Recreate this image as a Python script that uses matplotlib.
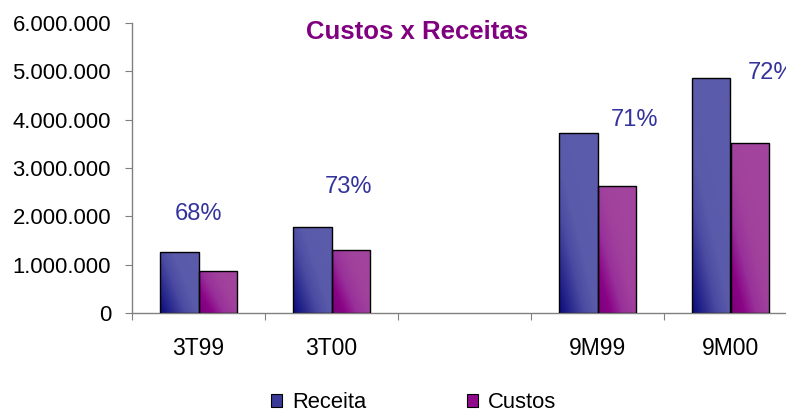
import numpy as np
import matplotlib
matplotlib.use("Agg")
import matplotlib.pyplot as plt
from matplotlib.colors import LinearSegmentedColormap
from matplotlib.patches import Rectangle

plt.rcParams['font.family'] = ['Liberation Sans', 'DejaVu Sans']

categories = ['3T99', '3T00', '', '9M99', '9M00']
receita = [1260000, 1780000, np.nan, 3730000, 4870000]
custos = [870000, 1300000, np.nan, 2630000, 3520000]
pct_labels = ['68%', '73%', '', '71%', '72%']
# label anchor positions (x offset from category centre, y in data units)
pct_dx = [0.0, 0.13, 0, 0.28, 0.31]
pct_y = [2050000, 2610000, 0, 4000000, 4970000]
yticks = [0, 1000000, 2000000, 3000000, 4000000, 5000000, 6000000]

fig = plt.figure(figsize=(7.86, 4.13), dpi=100)
ax = fig.add_axes([132/786, 100/413, 665/786, 290/413])

w = 0.286
x = np.arange(len(categories))
cmap_r = LinearSegmentedColormap.from_list('r', ['#0a0a7c', '#2a2a8e', '#4a4aa2', '#5a5aaa', '#5b5bab'])
cmap_c = LinearSegmentedColormap.from_list('c', ['#7a007a', '#8a0486', '#98309a', '#a0409c', '#a2449e'])

bars_r = ax.bar(x - w/2, receita, w, facecolor='none', edgecolor='black', linewidth=1.0, zorder=3, label='Receita')
bars_c = ax.bar(x + w/2, custos, w, facecolor='none', edgecolor='black', linewidth=1.0, zorder=3, label='Custos')

gu, gv = np.meshgrid(np.linspace(0, 1, 60), np.linspace(0, 1, 200))

def grad_for(h):
    # diagonal gradient dark at bottom-left
    scale = max(h / 1.0e6, 1.0)
    t = gu * 1.0 + gv * (0.4 + 0.2 * scale)
    return np.clip(t / 1.3, 0, 1)

for bars, cmap in ((bars_r, cmap_r), (bars_c, cmap_c)):
    for p in bars:
        x0, y0 = p.get_x(), p.get_y()
        h = p.get_height()
        if not np.isfinite(h):
            continue
        im = ax.imshow(grad_for(h), extent=[x0, x0 + p.get_width(), y0, y0 + h],
                       origin='lower', aspect='auto', cmap=cmap, vmin=0, vmax=1, zorder=2)
        im.set_clip_path(p)

for i, lab in enumerate(pct_labels):
    if lab:
        ax.text(x[i] + pct_dx[i], pct_y[i], lab, ha='center', va='center',
                fontsize=17, color='#33339c', zorder=4, clip_on=False)

ax.set_xlim(-0.5, len(categories) - 0.5)
ax.set_ylim(0, 6000000)
ax.set_yticks(yticks)
ax.set_yticklabels([f"{v:,}".replace(',', '.') for v in yticks])
ax.set_xticks(np.arange(len(categories) + 1) - 0.5)
ax.set_xticklabels([])
ax.set_xticks(x, minor=True)
ax.set_xticklabels(categories, minor=True)
ax.tick_params(axis='x', which='minor', length=0, pad=17, labelsize=16.5)
ax.tick_params(axis='x', which='major', length=5, direction='out', color='#808080')
ax.tick_params(axis='y', length=5, direction='out', color='#808080', pad=10, labelsize=15.9)
for s in ('top', 'right'):
    ax.spines[s].set_visible(False)
for s in ('left', 'bottom'):
    ax.spines[s].set_color('#808080')
    ax.spines[s].set_linewidth(1.0)

fig.text(417/786, 1 - 32/413, 'Custos x Receitas', ha='center', va='center',
         fontsize=18.5, fontweight='bold', color='#800080')

handles = [Rectangle((0, 0), 1, 1, facecolor='#3a3a98', edgecolor='black', linewidth=0.8),
           Rectangle((0, 0), 1, 1, facecolor='#920a8c', edgecolor='black', linewidth=0.8)]
fig.legend(handles, ['Receita', 'Custos'], loc='center', bbox_to_anchor=(414/786, 10/413),
           ncol=2, frameon=False, fontsize=15.8, handlelength=0.5, handleheight=0.5,
           handletextpad=0.45, columnspacing=4.6)

fig.savefig('out.png', dpi=100)
